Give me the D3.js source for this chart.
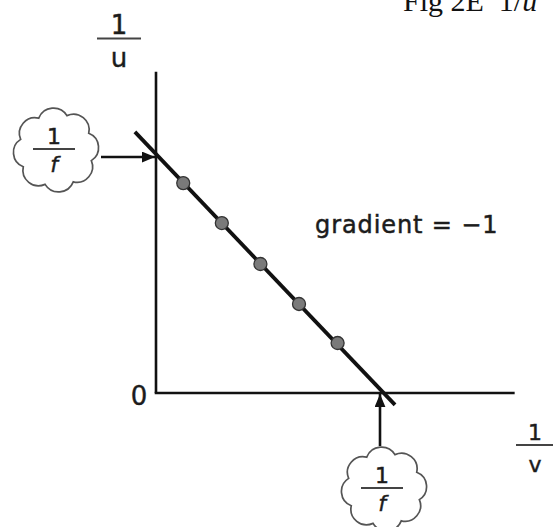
<!DOCTYPE html>
<html>
<head>
<meta charset="utf-8">
<script src="https://cdn.jsdelivr.net/npm/d3@7"></script>
<style>
    body { margin: 0; background: white; }
    svg { display: block; }
</style>
</head>
<body>
<div id="chart"></div>
<script>

// measured points (1/v, 1/u), in units of 1/f
const pointsX = [0.12, 0.29, 0.46, 0.63, 0.80];
const pointsY = [0.882, 0.714, 0.542, 0.374, 0.210];

// best fit line end points
const fitX = [-0.093, 1.053];
const fitY = [1.097, -0.05];

// intercept of both axes (1/f) and axis extents
const intercept = 1;
const axisXMax = 1.58;
const axisYMax = 1.35;

const titleText = "Fig 2E  1/";
const titleItalic = "u";
const gradientText = "gradient = \u22121";
const originText = "0";
const yLabel = ["1", "u"];
const xLabel = ["1", "v"];
const cloudLabel = ["1", "f"];

let width = 553,
    height = 527;

let svg = d3.select("#chart")
    .append("svg")
    .attr("width", width)
    .attr("height", height);

let x = d3.scaleLinear()
    .domain([0, 1])
    .range([156, 383]);

let y = d3.scaleLinear()
    .domain([0, 1])
    .range([393, 155]);

let font = "DejaVu Sans, Verdana, sans-serif";
let ink = "#1c1c1c";

// arrow head
svg.append("defs")
    .append("marker")
    .attr("id", "head")
    .attr("markerUnits", "userSpaceOnUse")
    .attr("viewBox", "0 0 12 10")
    .attr("refX", 12)
    .attr("refY", 5)
    .attr("markerWidth", 13)
    .attr("markerHeight", 11)
    .attr("orient", "auto")
    .append("path")
    .attr("d", "M0,0L12,5L0,10Z")
    .attr("fill", "#111");

// title, cut by the top edge
let title = svg.append("text")
    .attr("x", 403)
    .attr("y", 11)
    .attr("font-family", "Liberation Serif, Times New Roman, serif")
    .attr("font-size", 30)
    .attr("fill", "#111")
    .style("white-space", "pre");
title.append("tspan").text(titleText);
title.append("tspan").attr("font-style", "italic").text(titleItalic);

// axes
svg.append("line")
    .attr("x1", x(0)).attr("y1", y(0))
    .attr("x2", x(0)).attr("y2", y(axisYMax))
    .attr("stroke", "#111")
    .attr("stroke-width", 2.6);

svg.append("line")
    .attr("x1", x(0) - 1.3).attr("y1", y(0))
    .attr("x2", x(axisXMax)).attr("y2", y(0))
    .attr("stroke", "#111")
    .attr("stroke-width", 2.6);

// fraction labels: numerator above the bar, denominator below
function fraction(cx, barY, size, barW, denGap, parts, italic) {
    svg.append("text")
        .attr("x", cx)
        .attr("y", barY - 5)
        .attr("text-anchor", "middle")
        .attr("font-family", font)
        .attr("font-size", size)
        .attr("fill", ink)
        .attr("stroke", ink)
        .attr("stroke-width", 0.5)
        .text(parts[0]);
    svg.append("line")
        .attr("x1", cx - barW / 2).attr("x2", cx + barW / 2)
        .attr("y1", barY)
        .attr("y2", barY)
        .attr("stroke", "#444")
        .attr("stroke-width", 2.2);
    svg.append("text")
        .attr("x", cx)
        .attr("y", barY + denGap)
        .attr("text-anchor", "middle")
        .attr("font-family", font)
        .attr("font-style", italic ? "italic" : "normal")
        .attr("font-size", size)
        .attr("fill", ink)
        .attr("stroke", ink)
        .attr("stroke-width", 0.4)
        .text(parts[1]);
}

fraction(119, 38.5, 26, 44, 28, yLabel, false);
fraction(535, 445, 22, 38, 27, xLabel, false);

// origin
svg.append("text")
    .attr("x", 139)
    .attr("y", 405)
    .attr("text-anchor", "middle")
    .attr("font-family", font)
    .attr("font-size", 26)
    .attr("fill", ink)
    .attr("stroke", ink)
    .attr("stroke-width", 0.4)
    .text(originText);

// gradient note
svg.append("text")
    .attr("x", 315)
    .attr("y", 233)
    .attr("font-family", font)
    .attr("font-size", 24)
    .attr("letter-spacing", 0.9)
    .attr("fill", ink)
    .attr("stroke", ink)
    .attr("stroke-width", 0.5)
    .text(gradientText);

// fitted line
svg.append("line")
    .attr("x1", x(fitX[0])).attr("y1", y(fitY[0]))
    .attr("x2", x(fitX[1])).attr("y2", y(fitY[1]))
    .attr("stroke", "#111")
    .attr("stroke-width", 3.8);

// points
svg.selectAll("circle.pt")
    .data(pointsX.map((d, i) => [d, pointsY[i]]))
    .join("circle")
    .attr("class", "pt")
    .attr("cx", d => x(d[0]))
    .attr("cy", d => y(d[1]))
    .attr("r", 6.5)
    .attr("fill", "#7a7a7a")
    .attr("stroke", "#333")
    .attr("stroke-width", 1.3);

// cloud shape made of bumps round an ellipse
function cloudPath(cx, cy, rx, ry, n) {
    let pts = d3.range(n).map(i => {
        let a = -Math.PI / 2 + 0.3 + i * 2 * Math.PI / n;
        return [cx + rx * Math.cos(a), cy + ry * Math.sin(a)];
    });
    let p = `M${pts[0][0]},${pts[0][1]}`;
    pts.forEach((a, i) => {
        let b = pts[(i + 1) % n];
        let r = Math.hypot(b[0] - a[0], b[1] - a[1]) * 0.56;
        p += `A${r},${r} 0 0 1 ${b[0]},${b[1]}`;
    });
    return p + "Z";
}

function cloud(cx, cy) {
    svg.append("path")
        .attr("d", cloudPath(cx, cy, 37, 36, 8))
        .attr("fill", "white")
        .attr("stroke", "#555")
        .attr("stroke-width", 1.7);
    fraction(cx - 2, cy - 1, 22, 42, 23, cloudLabel, true);
}

// annotation: intercept on y axis
cloud(56, 150);
svg.append("line")
    .attr("x1", 101).attr("y1", y(intercept) + 2)
    .attr("x2", x(0) - 1).attr("y2", y(intercept) + 2)
    .attr("stroke", "#111")
    .attr("stroke-width", 2.6)
    .attr("marker-end", "url(#head)");

// annotation: intercept on x axis
cloud(384, 489);
svg.append("line")
    .attr("x1", x(intercept) - 3).attr("y1", 446)
    .attr("x2", x(intercept) - 3).attr("y2", y(0) + 1)
    .attr("stroke", "#111")
    .attr("stroke-width", 2.6)
    .attr("marker-end", "url(#head)");

</script>
</body>
</html>
